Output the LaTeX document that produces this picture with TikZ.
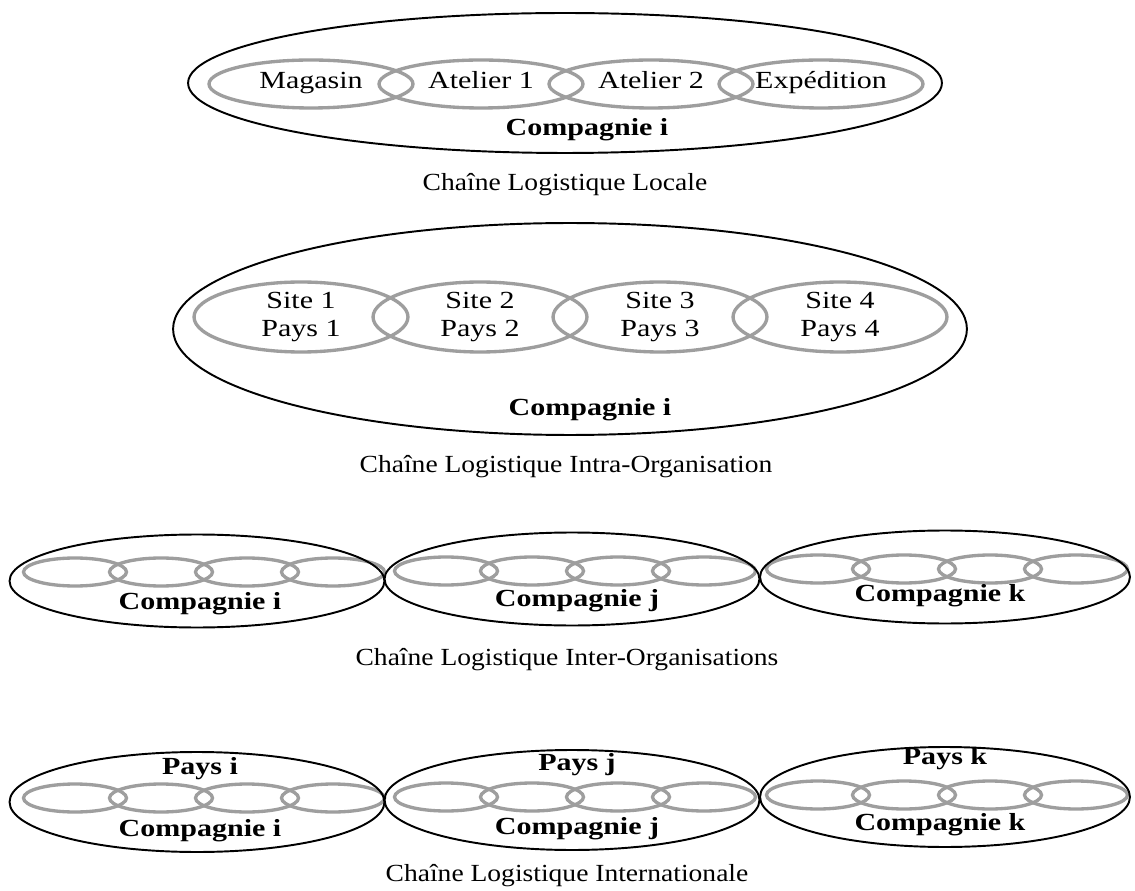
\documentclass[tikz,border=0pt]{standalone}
\usepackage{fontspec}
\usepackage{tikz}
\usetikzlibrary{shapes.geometric}
\setmainfont{Liberation Serif}[FakeStretch=1.22]
\newfontfamily\capfont{Liberation Serif}[FakeStretch=1.12]
\definecolor{linkgray}{RGB}{158,158,158}
\tikzset{outer/.style = {draw, ellipse, line width = 1.1pt, inner sep = 0}}
\tikzset{link/.style = {draw = linkgray, ellipse, line width = 1.9pt, inner sep = 0, align = center,
  font = \fontsize{14pt}{15.4pt}\selectfont}}
\tikzset{linka/.style = {link, minimum width = 4.08cm, minimum height = 0.96cm,
  text height = 0.68em, text depth = 0.2em}}
\tikzset{linkb/.style = {link, minimum width = 4.28cm, minimum height = 1.4cm}}
\tikzset{linkc/.style = {link, minimum width = 2.06cm, minimum height = 0.56cm}}
\tikzset{firm/.style = {font = \fontsize{14pt}{16pt}\selectfont\bfseries}}
\tikzset{caption/.style = {font = \fontsize{14pt}{16pt}\selectfont\capfont}}

\begin{document}
\begin{tikzpicture}[x = 0.02cm, y = -0.02cm]

    \useasboundingbox [fill = white] (0, 0) rectangle (1135, 891);

    % locale
    \node [linka] (a1) at (311, 84) {Magasin};
    \node [linka] (a2) at (481, 84) {Atelier 1};
    \node [linka] (a3) at (651, 84) {Atelier 2};
    \node [linka] (a4) at (821, 84) {Expédition};
    \node [outer, minimum width = 15.08cm, minimum height = 2.8cm] (A) at (565, 83) {};
    \node [firm] (Af) at (587, 130) {Compagnie i};
    \node [caption] (Ac) at (565, 185) {Chaîne Logistique Locale};

    % intra
    \node [linkb] (b1) at (301, 317) {Site 1\\Pays 1};
    \node [linkb] (b2) at (480, 317) {Site 2\\Pays 2};
    \node [linkb] (b3) at (660, 317) {Site 3\\Pays 3};
    \node [linkb] (b4) at (840, 317) {Site 4\\Pays 4};
    \node [outer, minimum width = 15.88cm, minimum height = 4.24cm] (B) at (570, 329) {};
    \node [firm] (Bf) at (590, 410) {Compagnie i};
    \node [caption] (Bc) at (566, 467) {Chaîne Logistique Intra-Organisation};

    % inter
    \node [linkc] (c1) at (75, 572) {};
    \node [linkc] (c2) at (161, 572) {};
    \node [linkc] (c3) at (247, 572) {};
    \node [linkc] (c4) at (333, 572) {};
    \node [linkc] (c5) at (446, 571) {};
    \node [linkc] (c6) at (532, 571) {};
    \node [linkc] (c7) at (618, 571) {};
    \node [linkc] (c8) at (704, 571) {};
    \node [linkc] (c9) at (818, 569) {};
    \node [linkc] (c10) at (904, 569) {};
    \node [linkc] (c11) at (990, 569) {};
    \node [linkc] (c12) at (1076, 569) {};
    \node [outer, minimum width = 7.5cm, minimum height = 1.86cm] (C1) at (197, 581) {};
    \node [outer, minimum width = 7.5cm, minimum height = 1.86cm] (C2) at (572, 579) {};
    \node [outer, minimum width = 7.4cm, minimum height = 1.86cm] (C3) at (945, 577) {};
    \node [firm] (C1f) at (200, 604) {Compagnie i};
    \node [firm] (C2f) at (577, 601) {Compagnie j};
    \node [firm] (C3f) at (940, 596) {Compagnie k};
    \node [caption] (Cc) at (567, 660) {Chaîne Logistique Inter-Organisations};

    % international
    \node [linkc] (d1) at (75, 798) {};
    \node [linkc] (d2) at (161, 798) {};
    \node [linkc] (d3) at (247, 798) {};
    \node [linkc] (d4) at (333, 798) {};
    \node [linkc] (d5) at (446, 797) {};
    \node [linkc] (d6) at (532, 797) {};
    \node [linkc] (d7) at (618, 797) {};
    \node [linkc] (d8) at (704, 797) {};
    \node [linkc] (d9) at (818, 795) {};
    \node [linkc] (d10) at (904, 795) {};
    \node [linkc] (d11) at (990, 795) {};
    \node [linkc] (d12) at (1076, 795) {};
    \node [outer, minimum width = 7.5cm, minimum height = 2cm] (D1) at (197, 802) {};
    \node [outer, minimum width = 7.5cm, minimum height = 2cm] (D2) at (572, 800) {};
    \node [outer, minimum width = 7.4cm, minimum height = 2cm] (D3) at (945, 797) {};
    \node [firm] (D1p) at (200, 769) {Pays i};
    \node [firm] (D2p) at (577, 765) {Pays j};
    \node [firm] (D3p) at (945, 759) {Pays k};
    \node [firm] (D1f) at (200, 831) {Compagnie i};
    \node [firm] (D2f) at (577, 829) {Compagnie j};
    \node [firm] (D3f) at (940, 825) {Compagnie k};
    \node [caption] (Dc) at (567, 876) {Chaîne Logistique Internationale};

  \end{tikzpicture}
\end{document}
